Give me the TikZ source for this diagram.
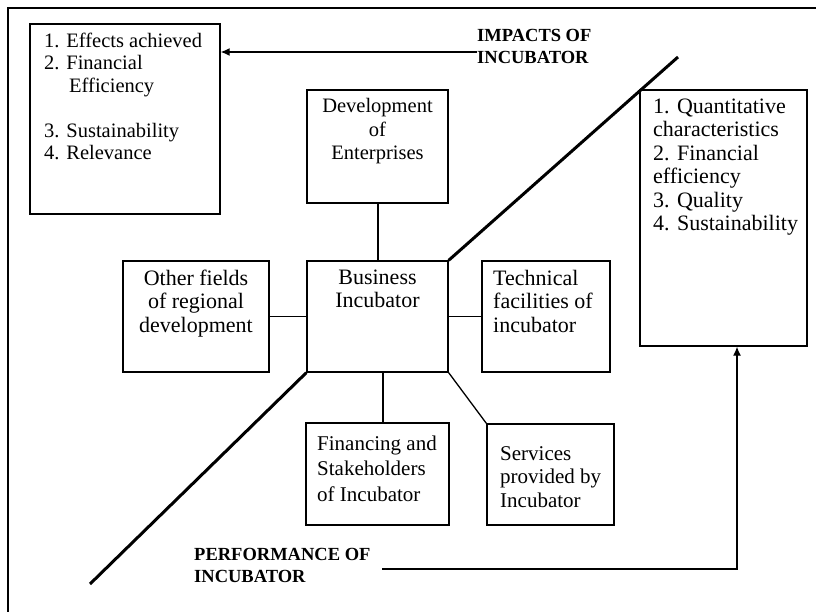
\documentclass[tikz,border=0pt]{standalone}
\usepackage{fontspec}
\setmainfont{Liberation Serif}
\usetikzlibrary{arrows.meta,fit}
\begin{document}
\begin{tikzpicture}[x=1pt,y=-1pt,
  box/.style={draw, line width=1.3pt, inner sep=0pt},
  txt/.style={font=\fontsize{22}{23.5}\selectfont, inner sep=0pt},
  head/.style={font=\bfseries\fontsize{18.5}{22}\selectfont, inner sep=0pt, align=left},
  conn/.style={line width=1.3pt},
  thickln/.style={line width=3pt},
  arr/.style={line width=1.3pt, -{Latex[length=9pt,width=8pt]}}]
\useasboundingbox (0,0) rectangle (816,612);
% outer frame
\coordinate (fbl) at (8,613);
\coordinate (ftl) at (8,8);
\coordinate (ftr) at (817,8);
\draw[line width=2pt] (fbl) -- (ftl) -- (ftr);
% boxes
\node[box, fit={(30,24) (220,214)}] (lbox) {};
\node[box, fit={(307,90) (448,203)}] (dev) {};
\node[box, fit={(307,261) (448,372)}] (bi) {};
\node[box, fit={(123,261) (269,372)}] (oth) {};
\node[box, fit={(482,261) (610,372)}] (tech) {};
\node[box, fit={(640,90) (807,346)}] (rbox) {};
\node[box, fit={(306,423) (449,525)}] (fin) {};
\node[box, fit={(487,424) (614,525)}] (serv) {};
% texts (base anchor = baseline of last line)
\node[txt, font=\fontsize{20.5}{22.5}\selectfont, align=left, anchor=base west] (ltxt) at (44,160) {1. Effects achieved\\2. Financial\\\hspace*{25pt}Efficiency\\[22.5pt]3. Sustainability\\4. Relevance};
\node[txt, font=\fontsize{20.5}{23.5}\selectfont, align=center, anchor=base] (devtxt) at (377.5,160) {Development\\of\\Enterprises};
\node[txt, font=\fontsize{22}{22.5}\selectfont, align=center, anchor=base] (bitxt) at (377.5,307) {Business\\Incubator};
\node[txt, align=center, anchor=base] (othtxt) at (196,332) {Other fields\\of regional\\development};
\node[txt, align=left, anchor=base west] (techtxt) at (493,332) {Technical\\facilities of\\incubator};
\node[txt, align=left, anchor=base west] (rtxt) at (653,231) {1. Quantitative\\characteristics\\2. Financial\\efficiency\\3. Quality\\4. Sustainability};
\node[txt, font=\fontsize{21}{25.5}\selectfont, align=left, anchor=base west] (fintxt) at (317,501) {Financing and\\Stakeholders\\of Incubator};
\node[txt, font=\fontsize{21}{23.5}\selectfont, align=left, anchor=base west] (servtxt) at (500,507) {Services\\provided by\\Incubator};
\node[head, anchor=base west] (imp) at (477,64) {IMPACTS OF\\INCUBATOR};
\node[head, anchor=base west] (perf) at (194,582) {PERFORMANCE OF\\INCUBATOR};
% connectors
\draw[conn] (dev.south -| 378,0) -- (bi.north -| 378,0);
\draw[conn] (oth.east) -- (bi.west);
\draw[conn] (bi.east) -- (tech.west);
\draw[conn] (bi.south -| 383,0) -- (fin.north -| 383,0);
\draw[conn] (bi.south east) -- (serv.north west);
% thick diagonal
\coordinate (dtop) at (678,57);
\coordinate (dbot) at (90,584);
\draw[thickln] (bi.north east) -- (dtop);
\draw[thickln] (bi.south west) -- (dbot);
% arrows
\coordinate (impstart) at (477,52);
\draw[arr] (impstart) -- (lbox.east |- impstart);
\coordinate (perfstart) at (382,569);
\coordinate (perfcorner) at (737,569);
\draw[arr] (perfstart) -- (perfcorner) -- (rbox.south -| perfcorner);
\end{tikzpicture}
\end{document}
